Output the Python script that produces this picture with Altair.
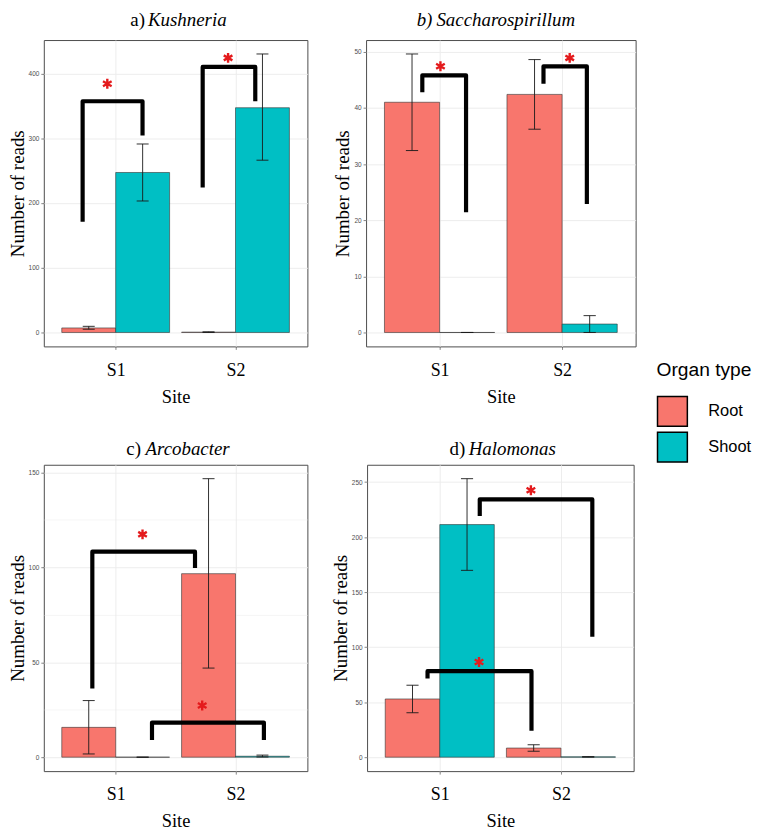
import altair as alt
import pandas as pd
import numpy as np

sites = ["S1", "S2"]
organs = ["Root", "Shoot"]
colors = ["#F8766D", "#00BFC4"]
letters = ["a)", "b)", "c)", "d)"]
genera = ["Kushneria", "Saccharospirillum", "Arcobacter", "Halomonas"]
letter_italic = [False, True, False, False]

# value order: Root S1, Shoot S1, Root S2, Shoot S2
kushneria_mean = [7.0, 247.0, 0.5, 347.0]
kushneria_low = [5.0, 203.0, 0.0, 266.0]
kushneria_high = [9.5, 291.0, 1.0, 430.0]

saccharospirillum_mean = [41.0, 0.0, 42.4, 1.5]
saccharospirillum_low = [32.4, 0.0, 36.2, 0.0]
saccharospirillum_high = [49.6, 0.0, 48.6, 3.0]

arcobacter_mean = [15.7, 0.0, 96.6, 0.5]
arcobacter_low = [1.7, 0.0, 46.9, 0.1]
arcobacter_high = [29.8, 0.0, 146.6, 1.1]

halomonas_mean = [52.9, 211.4, 8.3, 0.3]
halomonas_low = [40.4, 169.8, 5.4, 0.1]
halomonas_high = [65.4, 253.1, 11.3, 0.5]

means = [kushneria_mean, saccharospirillum_mean, arcobacter_mean, halomonas_mean]
lows = [kushneria_low, saccharospirillum_low, arcobacter_low, halomonas_low]
highs = [kushneria_high, saccharospirillum_high, arcobacter_high, halomonas_high]
tick_steps = [100, 10, 50, 50]

# significance brackets: [x_left, x_right, y_left_end, y_top, y_right_end]
kushneria_brackets = [[0.724, 1.224, 171, 357, 304], [1.726, 2.165, 224, 410, 357]]
saccharospirillum_brackets = [[0.859, 1.216, 42.8, 45.8, 21.4], [1.848, 2.202, 44.3, 47.4, 22.9]]
arcobacter_brackets = [[0.805, 1.662, 36.2, 108.2, 99.6], [1.303, 2.237, 9.1, 18.2, 9.1]]
halomonas_brackets = [[1.330, 2.259, 219.2, 234.3, 109.4], [0.899, 1.757, 71.6, 78.2, 24.1]]
brackets = [kushneria_brackets, saccharospirillum_brackets, arcobacter_brackets, halomonas_brackets]

# asterisks: [x, y]
kushneria_stars = [[0.93, 384], [1.938, 424]]
saccharospirillum_stars = [[1.007, 47.4], [2.062, 48.9]]
arcobacter_stars = [[1.224, 117.3], [1.722, 27.2]]
halomonas_stars = [[1.752, 242.6], [1.324, 86.5]]
stars = [kushneria_stars, saccharospirillum_stars, arcobacter_stars, halomonas_stars]

panel_widths = [265, 271, 265, 268]
panel_height = 308
title_split = [101.7, 66.7, 97.7, 98.7]
title_gap = [3.0, 4.0, 4.5, 3.5]
title_baseline = [-14, -14, -10, -10]

ASTERISK = "M0,-1L0,1M-0.87,-0.5L0.87,0.5M-0.87,0.5L0.87,-0.5"
DODGE = 0.9
CAP = 0.1

site_label_expr = " : ".join(
    [f"datum.value === {i + 1} ? '{s}'" for i, s in enumerate(sites)] + ["''"]
)


def make_panel(i):
    rows = []
    k = 0
    for s_i, s in enumerate(sites):
        for o_i, o in enumerate(organs):
            pos = s_i + 1
            x0 = pos - DODGE / 2 + o_i * DODGE / 2
            x1 = x0 + DODGE / 2
            xc = (x0 + x1) / 2
            rows.append(dict(site=s, organ=o, x0=x0, x1=x1, xc=xc,
                             cl=xc - CAP / 2, cr=xc + CAP / 2,
                             mean=means[i][k], low=lows[i][k], high=highs[i][k]))
            k += 1
    df = pd.DataFrame(rows)

    brows = []
    for j, (xl, xr, yl, yt, yr) in enumerate(brackets[i]):
        for o, (bx, by) in enumerate([(xl, yl), (xl, yt), (xr, yt), (xr, yr)]):
            brows.append(dict(bid=j, ord=o, bx=bx, by=by))
    bdf = pd.DataFrame(brows)
    sdf = pd.DataFrame(stars[i], columns=["sx", "sy"])
    tdf = pd.DataFrame({"letter": [letters[i]], "genus": [genera[i]]})

    ymax = max(highs[i])
    yscale = alt.Scale(domain=[-0.05 * ymax, 1.05 * ymax], nice=False, zero=False)
    xscale = alt.Scale(domain=[0.4, 2.6], nice=False, zero=False)
    step = tick_steps[i]
    yvals = [float(v) for v in np.arange(0, 1.05 * ymax, step / 2)]
    major = f"abs(datum.value % {step}) < 1e-6"
    yaxis = alt.Axis(
        values=yvals,
        labelExpr=f"{major} ? datum.label : ''",
        gridWidth={"condition": {"test": major, "value": 0.9}, "value": 0.45},
        tickOpacity={"condition": {"test": major, "value": 1}, "value": 0},
        labelOverlap=False,
        title="Number of reads",
    )
    xaxis = alt.Axis(values=[1, 2], labelExpr=site_label_expr, title="Site",
                     gridWidth=0.9, labelOverlap=False)

    bars = alt.Chart(df).mark_bar(stroke="#333333", strokeWidth=0.6).encode(
        x=alt.X("x0:Q", scale=xscale, axis=xaxis),
        x2="x1:Q",
        y=alt.Y("mean:Q", scale=yscale, axis=yaxis),
        y2=alt.datum(0),
        color=alt.Color("organ:N", scale=alt.Scale(domain=organs, range=colors),
                        legend=alt.Legend(title="Organ type")),
    )
    err = alt.Chart(df).mark_rule(color="#1a1a1a", strokeWidth=0.9).encode(
        x="xc:Q", y="low:Q", y2="high:Q")
    cap_lo = alt.Chart(df).mark_rule(color="#1a1a1a", strokeWidth=0.9).encode(
        x="cl:Q", x2="cr:Q", y="low:Q")
    cap_hi = alt.Chart(df).mark_rule(color="#1a1a1a", strokeWidth=0.9).encode(
        x="cl:Q", x2="cr:Q", y="high:Q")
    br = alt.Chart(bdf).mark_line(color="black", strokeWidth=4.2, strokeCap="butt",
                                  strokeJoin="round").encode(
        x="bx:Q", y="by:Q", detail="bid:N", order="ord:Q")
    st = alt.Chart(sdf).mark_point(shape=ASTERISK, size=100, filled=False,
                                   stroke="#E41A1C", strokeWidth=2.4, opacity=1).encode(
        x="sx:Q", y="sy:Q")
    t_letter = alt.Chart(tdf).mark_text(
        font="Liberation Serif", fontSize=19, align="right", baseline="alphabetic",
        fontStyle="italic" if letter_italic[i] else "normal", color="black").encode(
        text="letter:N", x=alt.value(title_split[i]), y=alt.value(title_baseline[i]))
    t_genus = alt.Chart(tdf).mark_text(
        font="Liberation Serif", fontSize=19, align="left", baseline="alphabetic",
        fontStyle="italic", color="black").encode(
        text="genus:N", x=alt.value(title_split[i] + title_gap[i]),
        y=alt.value(title_baseline[i]))

    return alt.layer(bars, err, cap_lo, cap_hi, br, st, t_letter, t_genus).properties(
        width=panel_widths[i], height=panel_height)


panels = [make_panel(i) for i in range(4)]
row1 = alt.hconcat(panels[0], panels[1], spacing=25)
row2 = alt.hconcat(panels[2], panels[3], spacing=22)

chart = alt.vconcat(row1, row2, spacing=33).properties(
    padding={"left": -1, "top": 0, "right": 0, "bottom": 0},
).configure_axis(
    labelFont="Liberation Sans", labelColor="#4d4d4d", labelFontSize=6.5,
    tickColor="#333333", tickSize=3, tickWidth=0.6, gridColor="#ebebeb",
    domain=False, titleFont="Liberation Serif", titleFontWeight="normal",
    titleColor="black",
).configure_axisX(
    labelFont="Liberation Serif", labelFontSize=18, labelColor="black",
    labelPadding=12, titleFontSize=18.5, titlePadding=8,
).configure_axisY(
    titleFontSize=19, titlePadding=1, labelPadding=2,
).configure_view(
    stroke="#4d4d4d", strokeWidth=1, fill="white",
).configure_legend(
    orient="none", legendX=616, legendY=323,
    titleFont="Liberation Sans", titleFontSize=19.3, titleFontWeight="normal",
    titleColor="black", titlePadding=15,
    labelFont="Liberation Sans", labelFontSize=16.5, labelColor="black",
    labelOffset=20, symbolType="square", symbolSize=900,
    symbolStrokeColor="black", symbolStrokeWidth=1.5, symbolOpacity=1,
    rowPadding=0,
)

chart.save("out.html", embed_options={"renderer": "svg", "actions": False})
